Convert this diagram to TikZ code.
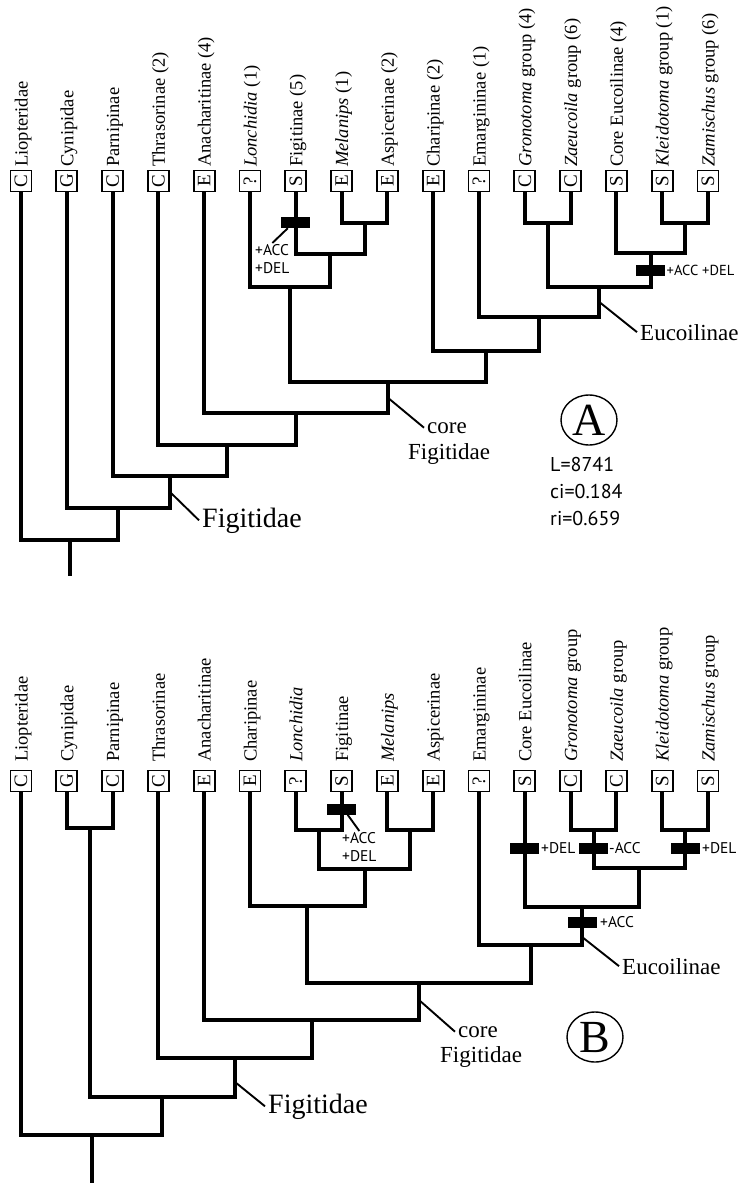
\documentclass[tikz,border=0pt]{standalone}
\usepackage{fontspec}
\usepackage{graphicx}
\setmainfont{Liberation Serif}
\newfontfamily\annofont{PT Sans}
\usetikzlibrary{shapes.geometric, positioning}

\tikzset{
  tbox/.style={draw, line width=1.7pt, minimum size=21pt, inner sep=0pt,
    font=\fontsize{19}{19}\selectfont},
  taxlab/.style={rotate=90, anchor=base west, inner sep=0pt,
    font=\fontsize{18.5}{18.5}\selectfont},
  branch/.style={line width=4pt, line join=miter},
  synapo/.style={fill=black, minimum width=29pt, minimum height=11pt, inner sep=0pt},
  chg/.style={font=\annofont\fontsize{15.5}{18.5}\selectfont, inner sep=1pt},
  cladelab/.style={font=\fontsize{23}{26}\selectfont, inner sep=3pt, anchor=base west},
  bigclade/.style={font=\fontsize{28}{30}\selectfont, inner sep=3pt, anchor=base west},
  pointer/.style={line width=1.9pt},
  stat/.style={font=\annofont\fontsize{20}{27}\selectfont, inner sep=0pt, anchor=base west},
  panel/.style={ellipse, draw, line width=1.4pt, minimum width=56pt, minimum height=50pt,
    inner sep=0pt, font=\fontsize{46}{46}\selectfont},
}

\begin{document}
\begin{tikzpicture}[x=1pt, y=-1pt]
\useasboundingbox (0,0) rectangle (737,1183);

% ---------------- A ----------------
\foreach \i/\s/\t in {0/C/Liopteridae, 1/G/Cynipidae, 2/C/Parnipinae,
    3/C/Thrasorinae (2), 4/E/Anacharitinae (4), 5/?/{\textit{Lonchidia} (1)},
    6/S/Figitinae (5), 7/E/{\textit{Melanips} (1)}, 8/E/Aspicerinae (2),
    9/E/Charipinae (2), 10/?/Emargininae (1), 11/C/{\textit{Gronotoma} group (4)},
    12/C/{\textit{Zaeucoila} group (6)}, 13/S/Core Eucoilinae (4),
    14/S/{\textit{Kleidotoma} group (1)}, 15/S/{\textit{Zamischus} group (6)}} {
  \node[tbox] (a\i) at ({21+45.8*\i},181) {\rotatebox{90}{\s}};
  \node[taxlab] (alab\i) at ({27.5+45.8*\i},167) {\t};
}

\coordinate (aMA)   at (364.5,223);
\coordinate (aFMA)  at (330.2,254);
\coordinate (aLon)  at (290.1,287);
\coordinate (aGZ)   at (547.7,223);
\coordinate (aKZ)   at (685.1,223);
\coordinate (aCKZ)  at (650.8,253);
\coordinate (aEuc)  at (599.3,287);
\coordinate (aEma)  at (539.2,317);
\coordinate (aCha)  at (486.2,351);
\coordinate (aCore) at (388.2,382);
\coordinate (aAna)  at (296.2,413);
\coordinate (aThr)  at (227.3,445);
\coordinate (aFig)  at (170,476);
\coordinate (aCyn)  at (118.4,508);
\coordinate (aRoot) at (69.7,540);
\coordinate (aBase) at (69.7,576);

\draw[branch] (a7.south) |- (aMA) -| (a8.south);
\draw[branch] (a6.south) |- (aFMA) -| (aMA);
\draw[branch] (a5.south) |- (aLon) -| (aFMA);
\draw[branch] (a11.south) |- (aGZ) -| (a12.south);
\draw[branch] (a14.south) |- (aKZ) -| (a15.south);
\draw[branch] (a13.south) |- (aCKZ) -| (aKZ);
\draw[branch] (aGZ) |- (aEuc) -| (aCKZ);
\draw[branch] (a10.south) |- (aEma) -| (aEuc);
\draw[branch] (a9.south) |- (aCha) -| (aEma);
\draw[branch] (aLon) |- (aCore) -| (aCha);
\draw[branch] (a4.south) |- (aAna) -| (aCore);
\draw[branch] (a3.south) |- (aThr) -| (aAna);
\draw[branch] (a2.south) |- (aFig) -| (aThr);
\draw[branch] (a1.south) |- (aCyn) -| (aFig);
\draw[branch] (a0.south) |- (aRoot) -| (aCyn);
\draw[branch] (aRoot) -- (aBase);

% changes
\node[synapo] (mA1) at (295.8,222.5) {};
\node[chg, anchor=north west, align=left] (cA1) at (254,243) {+ACC\\+DEL};
\draw[pointer] ([xshift=-8pt]mA1.south) -- (cA1.north);
\node[synapo] (mA2) at (650.8,270.5) {};
\node[chg, anchor=west, font=\annofont\fontsize{14.5}{18}\selectfont, inner sep=0.5pt]
  (cA2) at (666,270.5) {+ACC +DEL};

% clade names
\coordinate (aFigLn) at (170,492);
\node[bigclade] (lFigA) at (199,527) {Figitidae};
\draw[pointer] (aFigLn) -- (lFigA.west);
\coordinate (aCoreLn) at (388.2,398);
\node[cladelab] (lCoreA) at (424,433) {core};
\node[cladelab] (lCoreA2) at (405,459) {Figitidae};
\draw[pointer] (aCoreLn) -- (lCoreA.west);
\coordinate (aEucLn) at (599.3,302);
\node[cladelab] (lEucA) at (637,340) {Eucoilinae};
\draw[pointer] (aEucLn) -- (lEucA.west);

\node[panel] (pA) at (589,420) {A};
\node[stat] (sA1) at (550,471.5) {L=8741};
\node[stat] (sA2) at (550,498.5) {ci=0.184};
\node[stat] (sA3) at (550,525.5) {ri=0.659};

% ---------------- B ----------------
\foreach \i/\s/\t in {0/C/Liopteridae, 1/G/Cynipidae, 2/C/Parnipinae,
    3/C/Thrasorinae, 4/E/Anacharitinae, 5/E/Charipinae, 6/?/\textit{Lonchidia},
    7/S/Figitinae, 8/E/\textit{Melanips}, 9/E/Aspicerinae, 10/?/Emargininae,
    11/S/Core Eucoilinae, 12/C/{\textit{Gronotoma} group},
    13/C/{\textit{Zaeucoila} group}, 14/S/{\textit{Kleidotoma} group},
    15/S/{\textit{Zamischus} group}} {
  \node[tbox] (b\i) at ({21+45.8*\i},781) {\rotatebox{90}{\s}};
  \node[taxlab] (blab\i) at ({27.5+45.8*\i},762) {\t};
}

\coordinate (bCP)   at (89.7,828);
\coordinate (bLF)   at (318.7,830);
\coordinate (bMA)   at (410.3,830);
\coordinate (bGZ)   at (593.5,830);
\coordinate (bKZ)   at (685.1,830);
\coordinate (bLFMA) at (364.5,869);
\coordinate (bGZKZ) at (639.3,868);
\coordinate (bEuc)  at (582.1,907);
\coordinate (bEma)  at (530.6,945);
\coordinate (bCha)  at (307.3,906);
\coordinate (bCore) at (419,983);
\coordinate (bAna)  at (311.6,1020);
\coordinate (bFig)  at (235,1058);
\coordinate (bCyn)  at (162.4,1097);
\coordinate (bRoot) at (91.7,1135);
\coordinate (bBase) at (91.7,1183);

\draw[branch] (b1.south) |- (bCP) -| (b2.south);
\draw[branch] (b6.south) |- (bLF) -| (b7.south);
\draw[branch] (b8.south) |- (bMA) -| (b9.south);
\draw[branch] (b12.south) |- (bGZ) -| (b13.south);
\draw[branch] (b14.south) |- (bKZ) -| (b15.south);
\draw[branch] (bLF) |- (bLFMA) -| (bMA);
\draw[branch] (bGZ) |- (bGZKZ) -| (bKZ);
\draw[branch] (b11.south) |- (bEuc) -| (bGZKZ);
\draw[branch] (b10.south) |- (bEma) -| (bEuc);
\draw[branch] (b5.south) |- (bCha) -| (bLFMA);
\draw[branch] (bCha) |- (bCore) -| (bEma);
\draw[branch] (b4.south) |- (bAna) -| (bCore);
\draw[branch] (b3.south) |- (bFig) -| (bAna);
\draw[branch] (bCP) |- (bCyn) -| (bFig);
\draw[branch] (b0.south) |- (bRoot) -| (bCyn);
\draw[branch] (bRoot) -- (bBase);

% changes
\node[synapo] (mB1) at (341.6,809) {};
\node[chg, anchor=north west, align=left] (cB1) at (341,831) {+ACC\\+DEL};
\draw[pointer] ([xshift=6pt]mB1.south) -- (cB1.north);
\node[synapo] (mB2) at (524.8,848.5) {};
\node[chg, anchor=west] (cB2) at (540,848.5) {+DEL};
\node[synapo] (mB3) at (593.5,848.5) {};
\node[chg, anchor=west] (cB3) at (608,848.5) {-ACC};
\node[synapo] (mB4) at (685.1,848.5) {};
\node[chg, anchor=west] (cB4) at (701,848.5) {+DEL};
\node[synapo] (mB5) at (582.1,922.5) {};
\node[chg, anchor=west] (cB5) at (599,922.5) {+ACC};

% clade names
\coordinate (bFigLn) at (235,1082);
\node[bigclade] (lFigB) at (265,1113) {Figitidae};
\draw[pointer] (bFigLn) -- (lFigB.west);
\coordinate (bCoreLn) at (419,1000);
\node[cladelab] (lCoreB) at (455,1037) {core};
\node[cladelab] (lCoreB2) at (437,1062) {Figitidae};
\draw[pointer] (bCoreLn) -- (lCoreB.west);
\coordinate (bEucLn) at (582.1,937);
\node[cladelab] (lEucB) at (619,974) {Eucoilinae};
\draw[pointer] (bEucLn) -- (lEucB.west);

\node[panel] (pB) at (595,1037) {B};
\end{tikzpicture}
\end{document}
